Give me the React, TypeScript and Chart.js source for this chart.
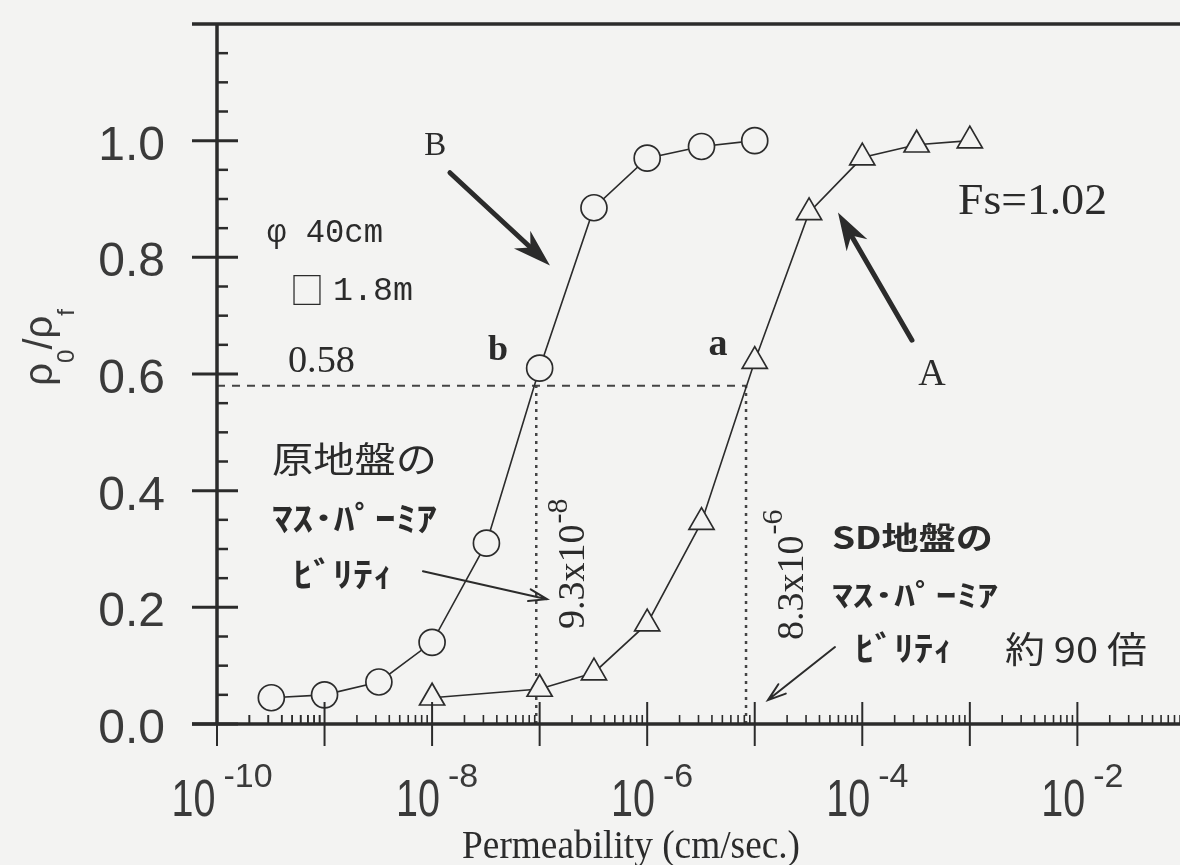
import React, { useEffect, useRef } from 'react';
import { Chart, registerables } from 'chart.js';

Chart.register(...registerables);

const BG = '#f3f3f2';
const INK = '#2b2b2b';
const SERIF = '"Liberation Serif", "Times New Roman", serif';
const SANS = '"Liberation Sans", Arial, sans-serif';
const MONO = '"Liberation Mono", monospace';
const CJK = '"Noto Sans CJK JP", sans-serif';

// Curve B – original ground (circles)
const permeabilityB = [3.2e-10, 1e-9, 3.2e-9, 1e-8, 3.2e-8, 1e-7, 3.2e-7, 1e-6, 3.2e-6, 1e-5];
const ratioB = [0.045, 0.05, 0.072, 0.14, 0.31, 0.61, 0.885, 0.97, 0.99, 1.0];

// Curve A – SD improved ground (triangles)
const permeabilityA = [1e-8, 1e-7, 3.2e-7, 1e-6, 3.2e-6, 1e-5, 3.2e-5, 1e-4, 3.2e-4, 1e-3];
const ratioA = [0.045, 0.06, 0.088, 0.172, 0.346, 0.622, 0.877, 0.971, 0.993, 1.0];

// Axes
const yTickValues = [0, 0.2, 0.4, 0.6, 0.8, 1.0];
const yTickLabels = ['0.0', '0.2', '0.4', '0.6', '0.8', '1.0'];
const yMinorStep = 0.05;
const xMajorExponents = [-10, -9, -8, -7, -6, -5, -4, -3, -2];
const xLabelExponents = [-10, -8, -6, -4, -2];
const xMinorMultipliers = [2, 3, 4, 5, 6, 7, 8, 9];
const X_MIN = 1e-10;
const X_MAX = 0.09;
const Y_MIN = 0;
const Y_MAX = 1.2;

// Reference values
const refRatio = 0.58;
const kOriginal = 9.3e-8;
const kSD = 8.3e-6;

const L = (e: number) => Math.pow(10, e);

type TextOpts = {
  align?: CanvasTextAlign;
  baseline?: CanvasTextBaseline;
  sx?: number;
  rot?: number;
  color?: string;
  width?: number;
};

function drawText(ctx: CanvasRenderingContext2D, s: string, x: number, y: number, font: string, o: TextOpts = {}) {
  ctx.save();
  ctx.font = font;
  let sx = o.sx ?? 1;
  if (o.width) sx = o.width / ctx.measureText(s).width;
  ctx.translate(x, y);
  if (o.rot) ctx.rotate(o.rot);
  ctx.scale(sx, 1);
  ctx.textAlign = o.align ?? 'left';
  ctx.textBaseline = o.baseline ?? 'alphabetic';
  ctx.fillStyle = o.color ?? INK;
  ctx.fillText(s, 0, 0);
  ctx.restore();
}

function thickArrow(ctx: CanvasRenderingContext2D, x1: number, y1: number, x2: number, y2: number) {
  const dx = x2 - x1, dy = y2 - y1;
  const len = Math.hypot(dx, dy);
  const ux = dx / len, uy = dy / len, nx = -uy, ny = ux;
  const hl = 38, hw = 12;
  ctx.save();
  ctx.strokeStyle = INK;
  ctx.fillStyle = INK;
  ctx.lineWidth = 5;
  ctx.lineCap = 'round';
  ctx.beginPath();
  ctx.moveTo(x1, y1);
  ctx.lineTo(x2 - ux * hl * 0.6, y2 - uy * hl * 0.6);
  ctx.stroke();
  ctx.beginPath();
  ctx.moveTo(x2, y2);
  ctx.lineTo(x2 - ux * hl + nx * hw, y2 - uy * hl + ny * hw);
  ctx.lineTo(x2 - ux * hl * 0.7, y2 - uy * hl * 0.7);
  ctx.lineTo(x2 - ux * hl - nx * hw, y2 - uy * hl - ny * hw);
  ctx.closePath();
  ctx.fill();
  ctx.restore();
}

function thinArrow(ctx: CanvasRenderingContext2D, x1: number, y1: number, x2: number, y2: number) {
  const dx = x2 - x1, dy = y2 - y1;
  const len = Math.hypot(dx, dy);
  const ux = dx / len, uy = dy / len, nx = -uy, ny = ux;
  const hl = 18, hw = 6;
  ctx.save();
  ctx.strokeStyle = INK;
  ctx.lineWidth = 2;
  ctx.lineCap = 'round';
  ctx.beginPath();
  ctx.moveTo(x1, y1);
  ctx.lineTo(x2, y2);
  ctx.moveTo(x2 - ux * hl + nx * hw, y2 - uy * hl + ny * hw);
  ctx.lineTo(x2, y2);
  ctx.lineTo(x2 - ux * hl - nx * hw, y2 - uy * hl - ny * hw);
  ctx.stroke();
  ctx.restore();
}

const decorPlugin = {
  id: 'decor',
  beforeDraw(chart: any) {
    const { ctx, width, height } = chart;
    ctx.save();
    ctx.fillStyle = BG;
    ctx.fillRect(0, 0, width, height);
    ctx.restore();
  },
  beforeDatasetsDraw(chart: any) {
    const ctx: CanvasRenderingContext2D = chart.ctx;
    const xs = chart.scales.x, ys = chart.scales.y;
    const yRef = ys.getPixelForValue(refRatio);
    const y0 = ys.getPixelForValue(0);
    ctx.save();
    ctx.strokeStyle = '#444';
    // dashed horizontal at 0.58
    ctx.lineWidth = 2;
    ctx.setLineDash([8, 7]);
    ctx.beginPath();
    ctx.moveTo(xs.left, yRef);
    ctx.lineTo(xs.getPixelForValue(kSD), yRef);
    ctx.stroke();
    // dotted verticals
    ctx.lineWidth = 2.5;
    ctx.setLineDash([3, 5]);
    for (const k of [kOriginal, kSD]) {
      const x = xs.getPixelForValue(k);
      ctx.beginPath();
      ctx.moveTo(x, y0);
      ctx.lineTo(x, yRef);
      ctx.stroke();
    }
    ctx.restore();
  },
  afterDatasetsDraw(chart: any) {
    const ctx: CanvasRenderingContext2D = chart.ctx;
    const xs = chart.scales.x, ys = chart.scales.y;
    const X = (v: number) => xs.getPixelForValue(v);
    const Y = (v: number) => ys.getPixelForValue(v);
    const left = xs.left, right = chart.width, top = ys.top, bottom = ys.bottom;

    ctx.save();
    ctx.strokeStyle = INK;
    ctx.lineCap = 'butt';
    // frame lines
    ctx.lineWidth = 3.5;
    ctx.beginPath();
    ctx.moveTo(left - 25, top);
    ctx.lineTo(right, top);
    ctx.moveTo(left - 25, bottom);
    ctx.lineTo(right, bottom);
    ctx.moveTo(left, top);
    ctx.lineTo(left, bottom);
    ctx.stroke();

    // y ticks
    ctx.lineWidth = 3;
    for (const v of yTickValues) {
      const y = Y(v);
      ctx.beginPath();
      ctx.moveTo(left - 25, y);
      ctx.lineTo(left + 21, y);
      ctx.stroke();
    }
    ctx.lineWidth = 2.5;
    for (let v = Y_MIN + yMinorStep; v < Y_MAX - 1e-9; v += yMinorStep) {
      if (yTickValues.some((t) => Math.abs(t - v) < 1e-6)) continue;
      const y = Y(v);
      ctx.beginPath();
      ctx.moveTo(left, y);
      ctx.lineTo(left + 11, y);
      ctx.stroke();
    }

    // x ticks
    ctx.lineWidth = 2;
    for (const e of xMajorExponents) {
      const x = X(L(e));
      ctx.beginPath();
      ctx.moveTo(x, bottom - 22);
      ctx.lineTo(x, bottom + 22);
      ctx.stroke();
    }
    ctx.lineWidth = 1.6;
    for (const e of [-10, ...xMajorExponents]) {
      for (const m of xMinorMultipliers) {
        const v = m * L(e);
        if (v > X_MAX) continue;
        const x = X(v);
        ctx.beginPath();
        ctx.moveTo(x, bottom - 9);
        ctx.lineTo(x, bottom);
        ctx.stroke();
      }
    }
    ctx.restore();

    // y tick labels
    yTickValues.forEach((v, i) => {
      drawText(ctx, yTickLabels[i], left - 52, Y(v) + 19, `48px ${SANS}`, { align: 'right', color: '#3a3a3a' });
    });

    // x tick labels 10^e
    for (const e of xLabelExponents) {
      const cx = X(L(e)) + 5;
      ctx.save();
      ctx.font = `52px ${SANS}`;
      const wb = ctx.measureText('10').width * 0.76;
      ctx.font = `34px ${SANS}`;
      const sup = '-' + String(Math.abs(e));
      const ws = ctx.measureText(sup).width;
      ctx.restore();
      const gap = 8;
      const start = cx - (wb + gap + ws) / 2;
      drawText(ctx, '10', start, bottom + 92, `52px ${SANS}`, { sx: 0.76, color: '#3a3a3a' });
      drawText(ctx, sup, start + wb + gap, bottom + 63, `34px ${SANS}`, { color: '#3a3a3a' });
    }

    // axis titles
    drawText(ctx, 'Permeability (cm/sec.)', X(L(-6.15)), bottom + 134, `40px ${SERIF}`, { align: 'center', width: 338 });
    {
      // rho_0 / rho_f rotated
      ctx.save();
      ctx.translate(52, Y(0.58));
      ctx.rotate(-Math.PI / 2);
      ctx.fillStyle = '#3a3a3a';
      ctx.textBaseline = 'alphabetic';
      let t = 0;
      const part = (s: string, size: number, dy: number) => {
        ctx.font = `${size}px ${SANS}`;
        ctx.fillText(s, t, dy);
        t += ctx.measureText(s).width;
      };
      part('ρ', 40, 0);
      part('0', 24, 22);
      part('/', 40, 0);
      part('ρ', 40, 0);
      part('f', 24, 22);
      ctx.restore();
    }

    // Annotations
    drawText(ctx, 'B', X(L(-7.97)), Y(0.991), `33px ${SERIF}`, { align: 'center', baseline: 'middle' });
    thickArrow(ctx, X(L(-7.834)), Y(0.945), X(L(-6.904)), Y(0.786));
    drawText(ctx, 'A', X(L(-3.352)), Y(0.598), `38px ${SERIF}`, { align: 'center', baseline: 'middle' });
    thickArrow(ctx, X(L(-3.538)), Y(0.658), X(L(-4.226)), Y(0.877));
    drawText(ctx, 'Fs=1.02', X(L(-3.11)), Y(0.894), `45px ${SERIF}`, { baseline: 'middle', width: 149 });

    drawText(ctx, 'b', X(L(-7.387)), Y(0.64), `bold 36px ${SERIF}`, { align: 'center', baseline: 'middle' });
    drawText(ctx, 'a', X(L(-5.342)), Y(0.649), `bold 38px ${SERIF}`, { align: 'center', baseline: 'middle' });

    drawText(ctx, 'φ 40cm', X(L(-9.535)), Y(0.841), `33px ${MONO}`, { baseline: 'middle', width: 116 });
    drawText(ctx, '□', X(L(-9.321)), Y(0.743), `36px ${CJK}`, { baseline: 'middle', width: 34 });
    drawText(ctx, '1.8m', X(L(-8.921)), Y(0.741), `33px ${MONO}`, { baseline: 'middle', width: 80 });
    drawText(ctx, '0.58', X(L(-9.34)), Y(0.62), `38px ${SERIF}`, { baseline: 'middle', width: 67 });

    drawText(ctx, '原地盤の', X(L(-9.489)), Y(0.454), `36px ${CJK}`, { baseline: 'middle', width: 165 });
    drawText(ctx, 'ﾏｽ･ﾊﾟｰﾐｱ', X(L(-9.489)), Y(0.353), `bold 34px ${CJK}`, { baseline: 'middle', width: 165 });
    drawText(ctx, 'ﾋﾞﾘﾃｨ', X(L(-9.293)), Y(0.257), `bold 34px ${CJK}`, { baseline: 'middle', width: 100 });
    thinArrow(ctx, X(L(-8.085)), Y(0.262), X(L(-6.932)), Y(0.214));

    drawText(ctx, 'SD地盤の', X(L(-4.282)), Y(0.32), `bold 31px ${CJK}`, { baseline: 'middle', width: 161 });
    drawText(ctx, 'ﾏｽ･ﾊﾟｰﾐｱ', X(L(-4.282)), Y(0.221), `bold 30px ${CJK}`, { baseline: 'middle', width: 166 });
    drawText(ctx, 'ﾋﾞﾘﾃｨ', X(L(-4.068)), Y(0.13), `bold 34px ${CJK}`, { baseline: 'middle', width: 98 });
    drawText(ctx, '約 90 倍', X(L(-2.673)), Y(0.128), `36px ${CJK}`, { baseline: 'middle', width: 142 });
    thinArrow(ctx, X(L(-4.254)), Y(0.132), X(L(-4.877)), Y(0.041));

    // rotated values
    const rotLabel = (base: string, sup: string, bx: number, by: number, supUp: number) => {
      ctx.save();
      ctx.translate(bx, by);
      ctx.rotate(-Math.PI / 2);
      ctx.fillStyle = INK;
      ctx.font = `38px ${SERIF}`;
      ctx.fillText(base, 0, 0);
      const w = ctx.measureText(base).width;
      ctx.font = `30px ${SERIF}`;
      ctx.fillText(sup, w + 1, -supUp);
      ctx.restore();
    };
    rotLabel('9.3x10', '-8', X(L(-6.59)), Y(0.163), 17);
    rotLabel('8.3x10', '-6', X(L(-4.55)), Y(0.144), 21);
  },
};

export default function App() {
  const ref = useRef<HTMLCanvasElement>(null);
  useEffect(() => {
    const canvas = ref.current;
    if (!canvas) return;
    const chart = new Chart(canvas, {
      type: 'line',
      data: {
        datasets: [
          {
            label: 'B (original ground)',
            data: permeabilityB.map((x, i) => ({ x, y: ratioB[i] })),
            borderColor: INK,
            borderWidth: 1.6,
            pointStyle: 'circle',
            pointRadius: 13,
            pointBorderWidth: 1.7,
            pointBorderColor: INK,
            pointBackgroundColor: BG,
            tension: 0,
            fill: false,
            clip: false,
          },
          {
            label: 'A (SD ground)',
            data: permeabilityA.map((x, i) => ({ x, y: ratioA[i] })),
            borderColor: INK,
            borderWidth: 1.6,
            pointStyle: 'triangle',
            pointRadius: 14.5,
            pointBorderWidth: 1.7,
            pointBorderColor: INK,
            pointBackgroundColor: BG,
            tension: 0,
            fill: false,
            clip: false,
          },
        ],
      } as any,
      options: {
        responsive: false,
        animation: false,
        devicePixelRatio: 1,
        events: [],
        layout: { autoPadding: false, padding: { left: 217, top: 24, right: 0, bottom: 141 } },
        scales: {
          x: { type: 'logarithmic', min: X_MIN, max: X_MAX, display: false },
          y: { type: 'linear', min: Y_MIN, max: Y_MAX, display: false },
        },
        plugins: { legend: { display: false }, tooltip: { enabled: false } },
      } as any,
      plugins: [decorPlugin],
    });
    return () => chart.destroy();
  }, []);
  return (
    <div style={{ position: 'fixed', left: 0, top: 0, width: 1180, height: 865, background: BG }}>
      <canvas ref={ref} width={1180} height={865} style={{ display: 'block', width: 1180, height: 865 }} />
    </div>
  );
}
